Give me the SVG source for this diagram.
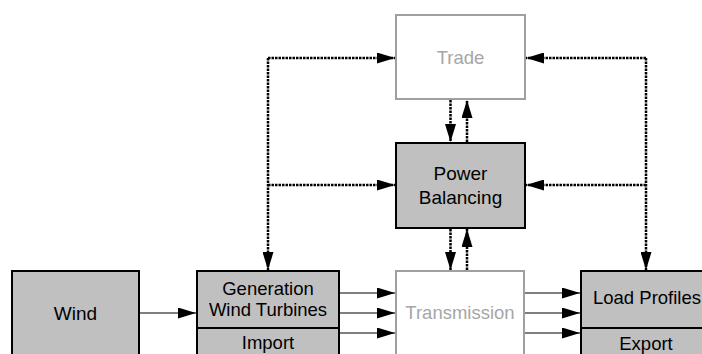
<svg xmlns="http://www.w3.org/2000/svg" width="702" height="354" viewBox="0 0 702 354">
<defs>
<marker id="ah" markerUnits="userSpaceOnUse" markerWidth="18" markerHeight="11" refX="18" refY="5.5" orient="auto" viewBox="0 0 18 11">
<path d="M0,0 L18,5.5 L0,11 z" fill="#000"/>
</marker>
</defs>
<style>
.dark{fill:#c0c0c0;stroke:#000;stroke-width:2}
.light{fill:#fff;stroke:#a0a0a0;stroke-width:2}
text{font-family:"Liberation Sans",Arial,sans-serif;font-size:18.5px;text-anchor:middle;fill:#000}
.big{font-size:19px}
.gt{fill:#a6a6a6}
.dash{fill:none;stroke:#000;stroke-width:2.5;stroke-dasharray:2.5 1;marker-end:url(#ah)}
.solid{fill:none;stroke:#000;stroke-width:1.2;marker-end:url(#ah)}
</style>
<rect width="702" height="354" fill="#fff"/>
<g id="connectors">
<path class="dash" d="M268,58 H395"/>
<path class="dash" d="M268,58 V270"/>
<path class="dash" d="M268,185 H395"/>
<path class="dash" d="M646,58 H526"/>
<path class="dash" d="M646,58 V270"/>
<path class="dash" d="M646,185 H526"/>
<path class="dash" d="M450.5,100 V142"/>
<path class="dash" d="M467,142 V100"/>
<path class="dash" d="M450.5,229 V270"/>
<path class="dash" d="M467,270 V229"/>
<path class="solid" d="M139,313 H196"/>
<path class="solid" d="M340,293 H395"/>
<path class="solid" d="M340,313 H395"/>
<path class="solid" d="M340,333 H395"/>
<path class="solid" d="M525,293 H580"/>
<path class="solid" d="M525,313 H580"/>
<path class="solid" d="M525,333 H580"/>
</g>
<g id="trade">
<rect class="light" x="396" y="15" width="129" height="84"/>
<text class="gt" x="460.5" y="64">Trade</text>
</g>
<g id="power-balancing">
<rect class="dark" x="396" y="143" width="129" height="85"/>
<text class="big" x="460.5" y="180">Power</text>
<text class="big" x="460.5" y="204">Balancing</text>
</g>
<g id="wind">
<rect class="dark" x="12" y="271" width="127" height="100"/>
<text class="big" x="75.5" y="320">Wind</text>
</g>
<g id="generation">
<rect class="dark" x="197" y="271" width="142" height="57"/>
<text x="268" y="295">Generation</text>
<text x="268" y="316">Wind Turbines</text>
</g>
<g id="import">
<rect class="dark" x="197" y="328" width="142" height="40"/>
<text x="268" y="349">Import</text>
</g>
<g id="transmission">
<rect class="light" x="396" y="271" width="128" height="100"/>
<text class="gt" x="460" y="319">Transmission</text>
</g>
<g id="load-profiles">
<rect class="dark" x="581" y="271" width="130" height="57"/>
<text x="647" y="304">Load Profiles</text>
</g>
<g id="export">
<rect class="dark" x="581" y="328" width="130" height="40"/>
<text x="646" y="350">Export</text>
</g>
</svg>
